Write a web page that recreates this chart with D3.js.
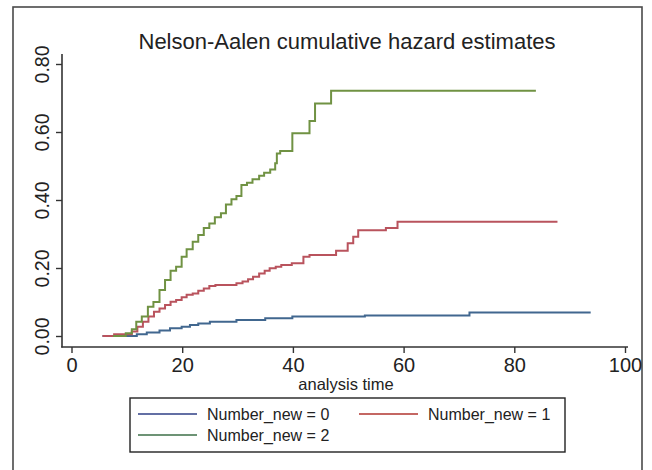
<!DOCTYPE html>
<html>
<head>
<meta charset="utf-8">
<title>Nelson-Aalen cumulative hazard estimates</title>
<script src="https://d3js.org/d3.v7.min.js"></script>
<style>
body {margin:0; background:white;}
svg {display:block; font-family:"Liberation Sans", Arial, sans-serif;}
</style>
</head>
<body>
<svg width="652" height="470"></svg>
<script>
// Number_new = 0
var times0 = [5.6, 11.8, 13.6, 15.9, 17.8, 19.9, 21.4, 22.9, 25.0, 29.8, 35.0, 39.9, 53.0, 71.9, 93.8];
var haz0 = [0, 0.005, 0.010, 0.016, 0.023, 0.027, 0.032, 0.037, 0.042, 0.047, 0.052, 0.057, 0.060, 0.069, 0.069];
// Number_new = 1
var times1 = [5.6, 7.7, 10.9, 11.9, 12.9, 13.9, 14.9, 15.9, 16.9, 17.9, 18.9, 19.9, 20.8, 21.9, 22.9, 23.9, 24.9, 26.0,
  29.8, 30.9, 31.9, 32.8, 33.9, 34.9, 35.8, 36.9, 37.9, 39.8, 41.9, 43.0, 47.8, 49.9, 50.9, 51.8, 56.8, 58.9, 87.8];
var haz1 = [0, 0.005, 0.013, 0.027, 0.042, 0.057, 0.071, 0.081, 0.091, 0.101, 0.106, 0.114, 0.121, 0.125, 0.133, 0.140, 0.147, 0.150,
  0.155, 0.160, 0.167, 0.174, 0.184, 0.192, 0.199, 0.204, 0.209, 0.214, 0.233, 0.238, 0.251, 0.273, 0.292, 0.311, 0.318, 0.336, 0.336];
// Number_new = 2
var times2 = [7.5, 9.8, 10.9, 11.7, 12.7, 13.8, 14.8, 15.9, 16.9, 17.9, 18.9, 19.9, 20.8, 21.9, 22.9, 23.9, 24.9, 25.9,
  27.0, 27.9, 28.9, 29.8, 30.7, 31.7, 32.7, 33.9, 34.8, 35.9, 36.8, 37.1, 37.7, 39.9, 43.0, 44.0, 46.9, 83.9];
var haz2 = [0, 0.008, 0.020, 0.042, 0.057, 0.086, 0.100, 0.135, 0.165, 0.192, 0.204, 0.233, 0.255, 0.277, 0.297, 0.318, 0.331, 0.349,
  0.361, 0.387, 0.402, 0.412, 0.444, 0.451, 0.461, 0.471, 0.480, 0.490, 0.508, 0.537, 0.544, 0.596, 0.632, 0.684, 0.721, 0.721];

var labels = ["Number_new = 0", "Number_new = 1", "Number_new = 2"];
var xTicks = [0, 20, 40, 60, 80, 100];
var yTicks = [0, 0.2, 0.4, 0.6, 0.8];

var lineColors = ["#41678f", "#b9535d", "#709243"];
var keyColors = ["#2f3f86", "#b0352f", "#3c6f47"];

var svg = d3.select("svg");

var x = d3.scaleLinear().domain([0, 100]).range([71.5, 625]);
var y = d3.scaleLinear().domain([0, 0.8]).range([336, 64]);

// outer frame
svg.append("rect")
  .attr("x", 13).attr("y", 7).attr("width", 629).attr("height", 520)
  .attr("fill", "none").attr("stroke", "#4a4a4a").attr("stroke-width", 1.6);

svg.append("text")
  .attr("x", 347).attr("y", 49)
  .attr("text-anchor", "middle")
  .style("font-size", "22px").style("fill", "#222")
  .text("Nelson-Aalen cumulative hazard estimates");

// y axis
var yAxis = svg.append("g")
  .attr("transform", "translate(62,0)")
  .call(d3.axisLeft(y).tickValues(yTicks).tickFormat(d3.format(".2f")).tickSize(6).tickSizeOuter(0));
yAxis.select(".domain").remove();
yAxis.selectAll(".tick line").attr("stroke", "#333").attr("stroke-width", 1.4);
yAxis.selectAll(".tick text")
  .attr("x", 0).attr("y", 0).attr("dy", 0)
  .attr("transform", "translate(-13,0) rotate(-90)")
  .attr("text-anchor", "middle")
  .style("font-size", "19.5px").style("fill", "#222");
svg.append("line")
  .attr("x1", 62).attr("x2", 62).attr("y1", 54).attr("y2", 347.5)
  .attr("stroke", "#333").attr("stroke-width", 1.6);

// x axis
var xAxis = svg.append("g")
  .attr("transform", "translate(0,347)")
  .call(d3.axisBottom(x).tickValues(xTicks).tickSize(6).tickPadding(5).tickSizeOuter(0));
xAxis.select(".domain").remove();
xAxis.selectAll(".tick line").attr("stroke", "#333").attr("stroke-width", 1.4);
xAxis.selectAll(".tick text").style("font-size", "20px").style("fill", "#222");
svg.append("line")
  .attr("x1", 61.2).attr("x2", 628).attr("y1", 347).attr("y2", 347)
  .attr("stroke", "#333").attr("stroke-width", 1.6);

svg.append("text")
  .attr("x", 346).attr("y", 390)
  .attr("text-anchor", "middle")
  .style("font-size", "16.5px").style("fill", "#222")
  .text("analysis time");

// step curves
var series = [[times0, haz0], [times1, haz1], [times2, haz2]];
var line = d3.line()
  .x(function(d) { return x(d[0]); })
  .y(function(d) { return y(d[1]); })
  .curve(d3.curveStepAfter);

series.forEach(function(s, i) {
  var pts = s[0].map(function(t, j) { return [t, s[1][j]]; });
  svg.append("path")
    .datum(pts)
    .attr("d", line)
    .attr("fill", "none")
    .attr("stroke", lineColors[i])
    .attr("stroke-width", 2);
});

// legend
var leg = svg.append("g");
leg.append("rect")
  .attr("x", 130).attr("y", 398).attr("width", 435).attr("height", 54)
  .attr("fill", "white").attr("stroke", "#222").attr("stroke-width", 1.4);
var keyPos = [[138, 414], [359, 414], [138, 435]];
labels.forEach(function(lab, i) {
  leg.append("line")
    .attr("x1", keyPos[i][0]).attr("x2", keyPos[i][0] + 59)
    .attr("y1", keyPos[i][1]).attr("y2", keyPos[i][1])
    .attr("stroke", keyColors[i]).attr("stroke-width", 1.5);
  leg.append("text")
    .attr("x", keyPos[i][0] + 69).attr("y", keyPos[i][1] + 6)
    .style("font-size", "16px").style("fill", "#222")
    .text(lab);
});
</script>
</body>
</html>
